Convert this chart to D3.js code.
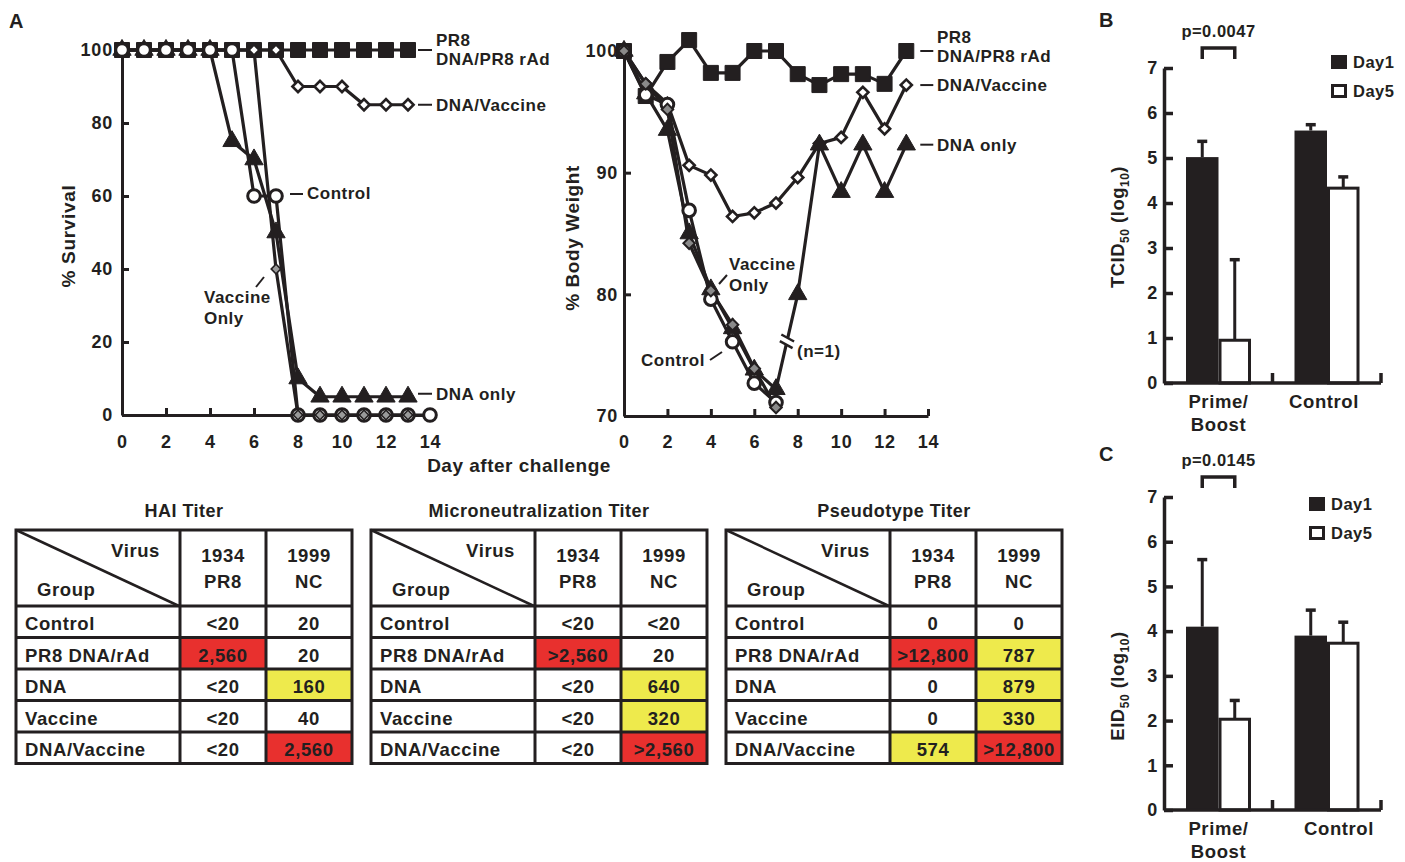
<!DOCTYPE html>
<html>
<head>
<meta charset="utf-8">
<style>
    body { margin: 0; background: #fff; }
    svg {
        font-family: 'Liberation Sans', Arial, Helvetica, sans-serif;
        font-weight: bold;
    }
    .axis text { font-size: 18px; font-weight: bold; fill: #231f20; letter-spacing: 0.8px; }
    .axis path, .axis line { stroke: #231f20; }
</style>
</head>
<body>
<svg width="1405" height="862"></svg>

<script src="https://d3js.org/d3.v7.min.js"></script>
<script>
    // ---- data ----
    const days = [0, 1, 2, 3, 4, 5, 6, 7, 8, 9, 10, 11, 12, 13];
    const controlDays = [0, 1, 2, 3, 4, 5, 6, 7, 8, 9, 10, 11, 12, 13, 14];
    const weightDaysShort = [0, 1, 2, 3, 4, 5, 6, 7];

    // % survival
    const survPR8 = [100, 100, 100, 100, 100, 100, 100, 100, 100, 100, 100, 100, 100, 100];
    const survDnaVaccine = [100, 100, 100, 100, 100, 100, 100, 100, 90, 90, 90, 85, 85, 85];
    const survDnaOnly = [100, 100, 100, 100, 100, 75, 70, 50, 10, 5, 5, 5, 5, 5];
    const survControl = [100, 100, 100, 100, 100, 100, 60, 60, 0, 0, 0, 0, 0, 0, 0];
    const survVaccineOnly = [100, 100, 100, 100, 100, 100, 100, 40, 0, 0, 0, 0, 0, 0];

    // % body weight
    const bwPR8 = [100, 96.3, 99.1, 100.9, 98.2, 98.2, 100, 100, 98.1, 97.2, 98.1, 98.1, 97.3, 100];
    const bwDnaVaccine = [100, 97.3, 95.7, 90.6, 89.8, 86.4, 86.7, 87.5, 89.6, 92.4, 92.9, 96.6, 93.6, 97.2];
    const bwDnaOnly = [100, 96.5, 93.5, 85.0, 80.4, 77.2, 73.8, 72.2, 80.0, 92.3, 88.4, 92.3, 88.4, 92.3];
    const bwControl = [100, 96.4, 95.6, 86.9, 79.6, 76.1, 72.7, 71.1];
    const bwVaccineOnly = [100, 97.3, 95.2, 84.2, 80.3, 77.5, 73.9, 70.7];

    const survTicks = [0, 20, 40, 60, 80, 100];
    const weightTicks = [70, 80, 90, 100];
    const dayTicks = [0, 2, 4, 6, 8, 10, 12, 14];

    // bar panels
    const barGroups = ["Prime/Boost", "Control"];
    const barSeries = ["Day1", "Day5"];
    const tcidDay1 = [5.02, 5.61];
    const tcidDay1Err = [0.35, 0.13];
    const tcidDay5 = [0.95, 4.33];
    const tcidDay5Err = [1.79, 0.25];
    const eidDay1 = [4.1, 3.9];
    const eidDay1Err = [1.5, 0.57];
    const eidDay5 = [2.03, 3.73];
    const eidDay5Err = [0.42, 0.47];
    const barTicks = [0, 1, 2, 3, 4, 5, 6, 7];

    // titer tables
    const tableGroups = ["Control", "PR8 DNA/rAd", "DNA", "Vaccine", "DNA/Vaccine"];
    const virusCols = [["1934", "PR8"], ["1999", "NC"]];
    const haiPR8 = ["<20", "2,560", "<20", "<20", "<20"];
    const haiNC = ["20", "20", "160", "40", "2,560"];
    const mnPR8 = ["<20", ">2,560", "<20", "<20", "<20"];
    const mnNC = ["<20", "20", "640", "320", ">2,560"];
    const psPR8 = ["0", ">12,800", "0", "0", "574"];
    const psNC = ["0", "787", "879", "330", ">12,800"];

    // ---- setup ----
    const ink = "#231f20";
    const svg = d3.select("svg");

    function zip(xs, ys) {
        return xs.map((d, i) => ({ x: d, y: ys[i] }));
    }

    const markerStyle = {
        square: { type: d3.symbolSquare, size: 225, fill: ink, rot: 0, sw: 1 },
        circle: { type: d3.symbolCircle, size: 125, fill: "#fff", rot: 0, sw: 3 },
        triangle: { type: d3.symbolTriangle, size: 145, fill: ink, rot: 0, sw: 1 },
        diamond: { type: d3.symbolSquare, size: 62, fill: "#fff", rot: 45, sw: 2.6 },
        gray: { type: d3.symbolSquare, size: 66, fill: "#8a8a8a", rot: 45, sw: 2 },
        graySmall: { type: d3.symbolSquare, size: 46, fill: "#9a9a9a", rot: 45, sw: 1.6 }
    };

    function drawLine(g, pts, x, y) {
        g.append("path")
            .datum(pts)
            .attr("fill", "none")
            .attr("stroke", ink)
            .attr("stroke-width", 3.2)
            .attr("stroke-linejoin", "round")
            .attr("d", d3.line().x(d => x(d.x)).y(d => y(d.y)));
    }

    function drawMarkers(g, pts, x, y, kind) {
        let m = markerStyle[kind];
        g.selectAll(null)
            .data(pts)
            .enter().append("path")
            .attr("d", d3.symbol().type(m.type).size(m.size))
            .attr("transform", d => `translate(${x(d.x)},${y(d.y)}) rotate(${m.rot})`)
            .attr("fill", m.fill)
            .attr("stroke", ink)
            .attr("stroke-width", m.sw);
    }

    function label(g, x, y, txt, anchor) {
        g.append("text")
            .attr("x", x).attr("y", y)
            .attr("text-anchor", anchor || "start")
            .attr("font-size", 17)
            .attr("letter-spacing", 0.5)
            .attr("fill", ink)
            .text(txt);
    }

    function leader(g, x1, y1, x2, y2) {
        g.append("line")
            .attr("x1", x1).attr("y1", y1).attr("x2", x2).attr("y2", y2)
            .attr("stroke", ink).attr("stroke-width", 2);
    }

    function styleAxis(ax, w) {
        ax.select(".domain").attr("stroke-width", w);
        ax.selectAll(".tick line").attr("stroke-width", w);
    }

    // ---- panel A: survival ----
    let gS = svg.append("g");
    let xS = d3.scaleLinear().domain([0, 14]).range([122, 430]);
    let yS = d3.scaleLinear().domain([0, 100]).range([415, 50]);

    let ySAxis = gS.append("g").attr("class", "axis")
        .attr("transform", `translate(${xS(0)},0)`)
        .call(d3.axisLeft(yS).tickValues(survTicks).tickSize(-7).tickSizeOuter(0).tickPadding(9));
    styleAxis(ySAxis, 3);
    let xSAxis = gS.append("g").attr("class", "axis")
        .attr("transform", `translate(0,${yS(0)})`)
        .call(d3.axisBottom(xS).tickValues(dayTicks).tickSize(-7).tickSizeOuter(0).tickPadding(20));
    styleAxis(xSAxis, 3);

    drawLine(gS, zip(days, survPR8), xS, yS);
    drawLine(gS, zip(days, survDnaVaccine), xS, yS);
    drawLine(gS, zip(days, survDnaOnly), xS, yS);
    drawLine(gS, zip(controlDays, survControl), xS, yS);
    drawLine(gS, zip(days, survVaccineOnly), xS, yS);

    drawMarkers(gS, zip(days, survPR8), xS, yS, "square");
    drawMarkers(gS, zip(days, survDnaVaccine), xS, yS, "diamond");
    drawMarkers(gS, zip(days, survDnaOnly), xS, yS, "triangle");
    drawMarkers(gS, zip(controlDays, survControl), xS, yS, "circle");
    // gray diamonds show only where they are not buried under the 100% stack
    drawMarkers(gS, zip(days, survVaccineOnly).filter(d => d.y < 100), xS, yS, "graySmall");

    leader(gS, xS(13) + 10, yS(100), xS(13) + 24, yS(100));
    label(gS, 436, 46, "PR8");
    label(gS, 436, 65, "DNA/PR8 rAd");
    leader(gS, xS(13) + 10, yS(85), xS(13) + 24, yS(85));
    label(gS, 436, yS(85) + 6, "DNA/Vaccine");
    leader(gS, xS(13) + 10, yS(5) - 3, xS(13) + 24, yS(5) - 3);
    label(gS, 436, yS(5) + 3, "DNA only");
    leader(gS, 290, yS(60) - 2, 303, yS(60) - 2);
    label(gS, 307, yS(60) + 3, "Control");
    label(gS, 204, 303, "Vaccine");
    label(gS, 204, 324, "Only");
    leader(gS, 256, 287, 264, 277);

    gS.append("text")
        .attr("transform", "translate(75,236) rotate(-90)")
        .attr("text-anchor", "middle")
        .attr("font-size", 19).attr("letter-spacing", 0.7).attr("fill", ink)
        .text("% Survival");

    svg.append("text")
        .attr("x", 519).attr("y", 472)
        .attr("text-anchor", "middle")
        .attr("font-size", 19).attr("letter-spacing", 0.5).attr("fill", ink)
        .text("Day after challenge");

    svg.append("text").attr("x", 9).attr("y", 28)
        .attr("font-size", 20).attr("fill", ink).text("A");

    // ---- panel A: body weight ----
    let gW = svg.append("g");
    let xW = d3.scaleLinear().domain([0, 14]).range([624, 928]);
    let yW = d3.scaleLinear().domain([70, 100]).range([416, 51]);

    let yWAxis = gW.append("g").attr("class", "axis")
        .attr("transform", `translate(${xW(0)},0)`)
        .call(d3.axisLeft(yW).tickValues(weightTicks).tickSize(-7).tickSizeOuter(0).tickPadding(6));
    styleAxis(yWAxis, 3);
    let xWAxis = gW.append("g").attr("class", "axis")
        .attr("transform", `translate(0,${yW(70)})`)
        .call(d3.axisBottom(xW).tickValues(dayTicks).tickSize(-7).tickSizeOuter(0).tickPadding(19));
    styleAxis(xWAxis, 3);

    drawLine(gW, zip(days, bwPR8), xW, yW);
    drawLine(gW, zip(days, bwDnaVaccine), xW, yW);
    drawLine(gW, zip(days, bwDnaOnly), xW, yW);
    drawLine(gW, zip(weightDaysShort, bwControl), xW, yW);
    drawLine(gW, zip(weightDaysShort, bwVaccineOnly), xW, yW);

    // axis break on the DNA only line between day 7 and day 8 (n=1)
    let p7 = [xW(7), yW(bwDnaOnly[7])];
    let p8 = [xW(8), yW(bwDnaOnly[8])];
    let dx = p8[0] - p7[0], dy = p8[1] - p7[1];
    let len = Math.sqrt(dx * dx + dy * dy);
    let ux = dx / len, uy = dy / len;
    let at = t => [p7[0] + dx * t, p7[1] + dy * t];
    let a = at(0.47), b = at(0.54);
    gW.append("line")
        .attr("x1", a[0]).attr("y1", a[1]).attr("x2", b[0]).attr("y2", b[1])
        .attr("stroke", "#fff").attr("stroke-width", 6);
    [a, b].forEach(p => {
        let px = -uy * 7 + ux * -2, py = ux * 7 + uy * -2;
        gW.append("line")
            .attr("x1", p[0] - px).attr("y1", p[1] - py)
            .attr("x2", p[0] + px).attr("y2", p[1] + py)
            .attr("stroke", ink).attr("stroke-width", 2.5);
    });

    drawMarkers(gW, zip(days, bwPR8), xW, yW, "square");
    drawMarkers(gW, zip(days, bwDnaVaccine), xW, yW, "diamond");
    drawMarkers(gW, zip(days, bwDnaOnly), xW, yW, "triangle");
    drawMarkers(gW, zip(weightDaysShort, bwControl), xW, yW, "circle");
    drawMarkers(gW, zip(weightDaysShort, bwVaccineOnly), xW, yW, "gray");

    leader(gW, xW(13) + 14, yW(100), xW(13) + 27, yW(100));
    label(gW, 937, 43, "PR8");
    label(gW, 937, 62, "DNA/PR8 rAd");
    leader(gW, xW(13) + 14, yW(97.2), xW(13) + 27, yW(97.2));
    label(gW, 937, yW(97.2) + 6, "DNA/Vaccine");
    leader(gW, xW(13) + 14, yW(92.3), xW(13) + 27, yW(92.3));
    label(gW, 937, yW(92.3) + 6, "DNA only");
    label(gW, 729, 270, "Vaccine");
    label(gW, 729, 291, "Only");
    leader(gW, 719, 284, 727, 275);
    label(gW, 641, 366, "Control");
    leader(gW, 710, 360, 722, 352);
    label(gW, 797, 357, "(n=1)");

    gW.append("text")
        .attr("transform", "translate(579,238) rotate(-90)")
        .attr("text-anchor", "middle")
        .attr("font-size", 19).attr("letter-spacing", 0.6).attr("fill", ink)
        .text("% Body Weight");

    // ---- panels B and C: bars ----
    function barPanel(opts) {
        let g = svg.append("g");
        let y = d3.scaleLinear().domain([0, 7]).range(opts.yRange);
        let x0 = d3.scaleBand().domain(barGroups).range([1164, 1381]);
        let x1 = d3.scaleBand().domain(barSeries).range([22, 87]);

        let rows = barGroups.map((grp, i) => [
            { grp: grp, s: "Day1", v: opts.day1[i], e: opts.day1Err[i] },
            { grp: grp, s: "Day5", v: opts.day5[i], e: opts.day5Err[i] }
        ]).flat();

        // error bars (up only)
        rows.forEach(d => {
            let cx = x0(d.grp) + x1(d.s) + x1.bandwidth() / 2;
            g.append("line")
                .attr("x1", cx).attr("x2", cx)
                .attr("y1", y(d.v)).attr("y2", y(d.v + d.e))
                .attr("stroke", ink).attr("stroke-width", 3);
            g.append("line")
                .attr("x1", cx - 5).attr("x2", cx + 5)
                .attr("y1", y(d.v + d.e)).attr("y2", y(d.v + d.e))
                .attr("stroke", ink).attr("stroke-width", 3.5);
        });

        g.selectAll(".bar")
            .data(rows)
            .enter().append("rect")
            .attr("x", d => x0(d.grp) + x1(d.s) + (d.s === "Day5" ? 1.5 : 0))
            .attr("width", d => x1.bandwidth() - (d.s === "Day5" ? 3 : 0))
            .attr("y", d => y(d.v))
            .attr("height", d => y(0) - y(d.v))
            .attr("fill", d => d.s === "Day1" ? ink : "#fff")
            .attr("stroke", ink)
            .attr("stroke-width", d => d.s === "Day5" ? 3 : 0);

        let yAx = g.append("g").attr("class", "axis")
            .attr("transform", "translate(1164,0)")
            .call(d3.axisLeft(y).tickValues(barTicks).tickFormat(d3.format("d"))
                .tickSize(-9).tickSizeOuter(0).tickPadding(6));
        styleAxis(yAx, 3.5);
        yAx.selectAll("text").attr("font-size", 19);

        g.append("line")
            .attr("x1", 1164).attr("x2", 1381)
            .attr("y1", y(0)).attr("y2", y(0))
            .attr("stroke", ink).attr("stroke-width", 3.5);
        barGroups.forEach(grp => {
            let tx = x0(grp) + x0.bandwidth();
            g.append("line")
                .attr("x1", tx).attr("x2", tx)
                .attr("y1", y(0)).attr("y2", y(0) - 10)
                .attr("stroke", ink).attr("stroke-width", 3.5);
        });

        // group labels
        barGroups.forEach(grp => {
            let cx = x0(grp) + x1.range()[0] + (x1.range()[1] - x1.range()[0]) / 2;
            let parts = grp === "Prime/Boost" ? ["Prime/", "Boost"] : [grp];
            parts.forEach((p, k) => {
                g.append("text")
                    .attr("x", cx + (parts.length === 1 ? opts.ctrlShift : 0))
                    .attr("y", y(0) + 25 + k * 23)
                    .attr("text-anchor", "middle")
                    .attr("font-size", 18.5).attr("letter-spacing", 0.6).attr("fill", ink)
                    .text(p);
            });
        });

        // significance bracket
        let bxa = x0(barGroups[0]) + x1("Day1") + x1.bandwidth() / 2;
        let bxb = x0(barGroups[0]) + x1("Day5") + x1.bandwidth() / 2;
        let by = opts.bracketY;
        g.append("path")
            .attr("d", `M${bxa},${by + 11}V${by}H${bxb}V${by + 11}`)
            .attr("fill", "none").attr("stroke", ink).attr("stroke-width", 3.5);
        g.append("text")
            .attr("x", (bxa + bxb) / 2).attr("y", by - 11)
            .attr("text-anchor", "middle")
            .attr("font-size", 16.5).attr("letter-spacing", 0.5).attr("fill", ink)
            .text(opts.pText);

        // legend
        barSeries.forEach((s, k) => {
            let ly = opts.legY + k * 29;
            g.append("rect")
                .attr("x", opts.legX + (s === "Day5" ? 1.5 : 0))
                .attr("y", ly + (s === "Day5" ? 1.5 : 0))
                .attr("width", s === "Day5" ? 13 : 16)
                .attr("height", s === "Day5" ? 11 : 14)
                .attr("fill", s === "Day1" ? ink : "#fff")
                .attr("stroke", ink).attr("stroke-width", s === "Day5" ? 3 : 0);
            g.append("text")
                .attr("x", opts.legX + 22).attr("y", ly + 13)
                .attr("font-size", 16.5).attr("letter-spacing", 0.5).attr("fill", ink)
                .text(s);
        });

        // y title with subscripts
        let t = g.append("text")
            .attr("transform", `translate(1124,${opts.titleY}) rotate(-90)`)
            .attr("text-anchor", "middle")
            .attr("font-size", 18.5).attr("letter-spacing", 0.5).attr("fill", ink);
        t.append("tspan").text(opts.titleMain);
        t.append("tspan").attr("font-size", 12).attr("dy", 5).text("50");
        t.append("tspan").attr("dy", -5).text(" (log");
        t.append("tspan").attr("font-size", 12).attr("dy", 5).text("10");
        t.append("tspan").attr("dy", -5).text(")");

        svg.append("text").attr("x", 1099).attr("y", opts.letterY)
            .attr("font-size", 20).attr("fill", ink).text(opts.letter);
    }

    barPanel({
        day1: tcidDay1, day1Err: tcidDay1Err, day5: tcidDay5, day5Err: tcidDay5Err,
        yRange: [383, 68], pText: "p=0.0047", bracketY: 48,
        legX: 1331, legY: 55, titleMain: "TCID", titleY: 227,
        letter: "B", letterY: 27, ctrlShift: -3
    });
    barPanel({
        day1: eidDay1, day1Err: eidDay1Err, day5: eidDay5, day5Err: eidDay5Err,
        yRange: [810, 497], pText: "p=0.0145", bracketY: 477,
        legX: 1309, legY: 497, titleMain: "EID", titleY: 686,
        letter: "C", letterY: 461, ctrlShift: 12
    });

    // ---- titer tables ----
    const titerColor = d3.scaleThreshold()
        .domain([100, 2560])
        .range(["#ffffff", "#eeea4c", "#e8302e"]);
    const titerValue = v => +v.replace(/[<>,]/g, "");

    function drawTable(left, title, colA, colB) {
        let g = svg.append("g");
        let top = 530, headH = 76;
        let colX = d3.scaleOrdinal().domain([0, 1, 2]).range([left, left + 164, left + 250]);
        let colW = [164, 86, 86];
        let rowY = d3.scaleBand().domain(tableGroups).range([top + headH, top + headH + 157.5]);
        let right = left + 336, bottom = top + headH + 157.5;

        g.append("text")
            .attr("x", left + 168).attr("y", 517)
            .attr("text-anchor", "middle")
            .attr("font-size", 18).attr("letter-spacing", 0.5).attr("fill", ink)
            .text(title);

        // coloured cells
        [colA, colB].forEach((col, c) => {
            tableGroups.forEach((grp, r) => {
                g.append("rect")
                    .attr("x", colX(c + 1)).attr("y", rowY(grp))
                    .attr("width", colW[c + 1]).attr("height", rowY.bandwidth())
                    .attr("fill", titerColor(titerValue(col[r])));
                g.append("text")
                    .attr("x", colX(c + 1) + colW[c + 1] / 2)
                    .attr("y", rowY(grp) + 24)
                    .attr("text-anchor", "middle")
                    .attr("font-size", 18.5).attr("letter-spacing", 0.6).attr("fill", ink)
                    .text(col[r]);
            });
        });

        // grid
        g.append("rect")
            .attr("x", left).attr("y", top)
            .attr("width", right - left).attr("height", bottom - top)
            .attr("fill", "none").attr("stroke", ink).attr("stroke-width", 3);
        [1, 2].forEach(c => {
            g.append("line")
                .attr("x1", colX(c)).attr("x2", colX(c))
                .attr("y1", top).attr("y2", bottom)
                .attr("stroke", ink).attr("stroke-width", 3);
        });
        tableGroups.forEach(grp => {
            g.append("line")
                .attr("x1", left).attr("x2", right)
                .attr("y1", rowY(grp)).attr("y2", rowY(grp))
                .attr("stroke", ink).attr("stroke-width", 3);
        });
        g.append("line")
            .attr("x1", left).attr("y1", top)
            .attr("x2", left + 163).attr("y2", top + headH)
            .attr("stroke", ink).attr("stroke-width", 2.5);

        // header text
        g.append("text").attr("x", left + 144).attr("y", top + 27)
            .attr("text-anchor", "end")
            .attr("font-size", 18.5).attr("letter-spacing", 0.6).attr("fill", ink).text("Virus");
        g.append("text").attr("x", left + 21).attr("y", top + 66)
            .attr("font-size", 18.5).attr("letter-spacing", 0.6).attr("fill", ink).text("Group");
        virusCols.forEach((vc, c) => {
            vc.forEach((line, k) => {
                g.append("text")
                    .attr("x", colX(c + 1) + colW[c + 1] / 2)
                    .attr("y", top + 32 + k * 26)
                    .attr("text-anchor", "middle")
                    .attr("font-size", 18.5).attr("letter-spacing", 0.6).attr("fill", ink)
                    .text(line);
            });
        });

        // group names
        tableGroups.forEach(grp => {
            g.append("text")
                .attr("x", left + 9).attr("y", rowY(grp) + 24)
                .attr("font-size", 18.5).attr("letter-spacing", 0.6).attr("fill", ink)
                .text(grp);
        });
    }

    drawTable(16, "HAI Titer", haiPR8, haiNC);
    drawTable(371, "Microneutralization Titer", mnPR8, mnNC);
    drawTable(726, "Pseudotype Titer", psPR8, psNC);
</script>
</body>
</html>
